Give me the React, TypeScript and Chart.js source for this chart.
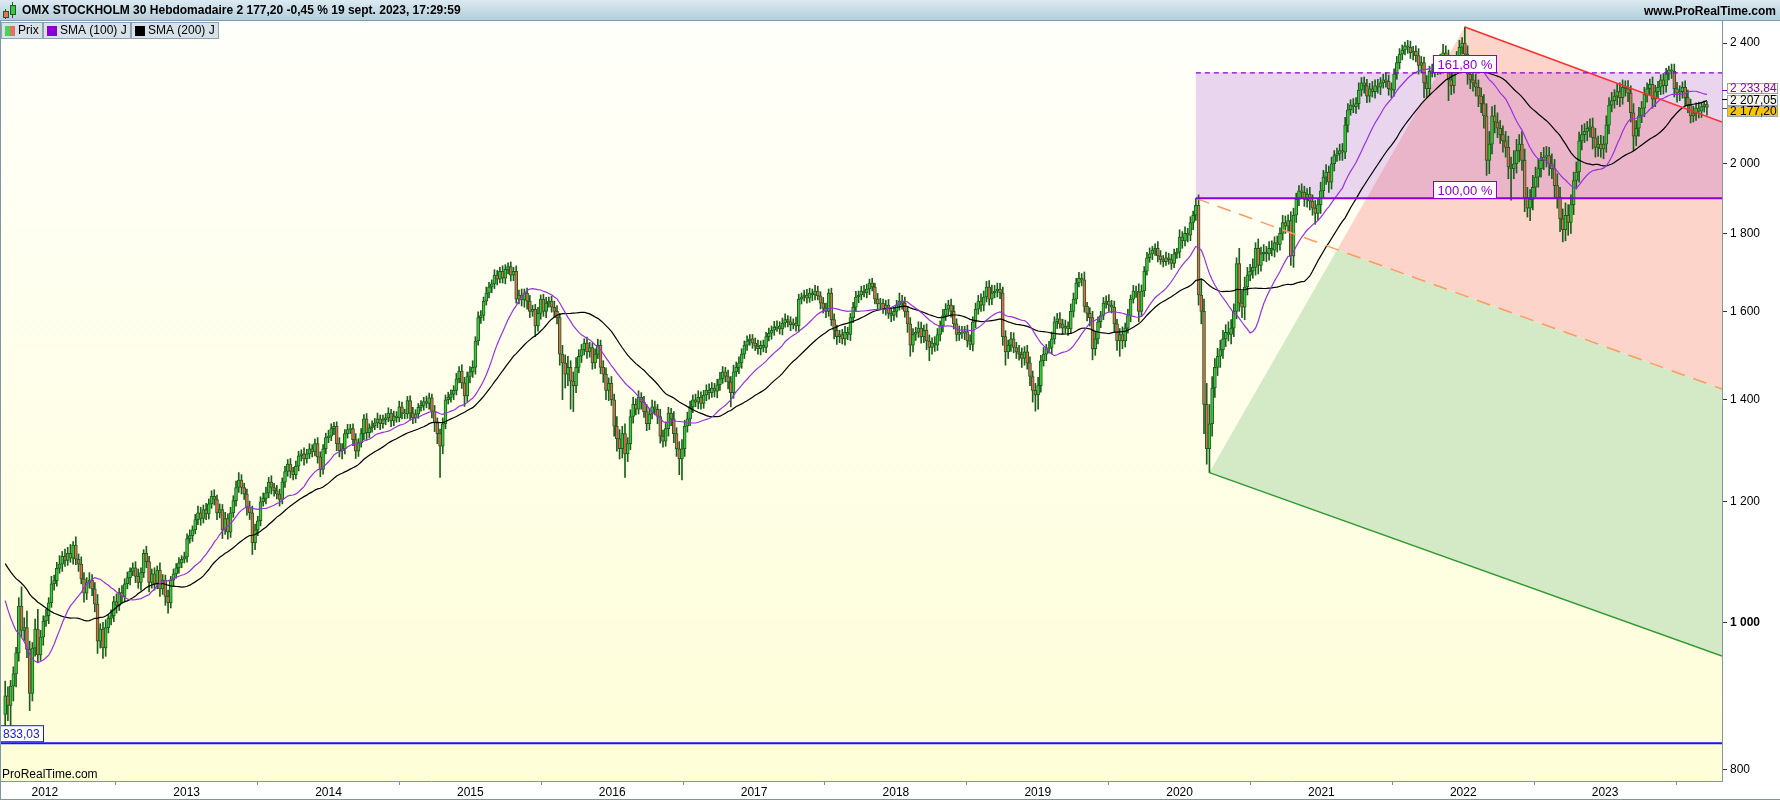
import React, { useEffect, useRef } from "react";
import { Chart, registerables } from "chart.js";

Chart.register(...registerables);

const FONT = "'Liberation Sans', Arial, Helvetica, sans-serif";

// ---- data (weekly candles, first week starts Monday 19 Sept 2011) ----
const warmupClose = [
  1150, 1160, 1165, 1155, 1170, 1160, 1150, 1175, 1185, 1180,
  1160, 1130, 1125, 1090, 1120, 1135, 1150, 1165, 1160, 1150,
  1160, 1165, 1150, 1140, 1130, 1115, 1100, 1115, 1120, 1110,
  1090, 1060, 985, 950, 960, 945, 955, 920, 890, 870,
];

const close2011 = [895, 882, 908, 925, 955, 1025, 988, 992, 960, 898, 962, 990, 952, 978, 1002];
const close2012 = [
  1010, 1030, 1060, 1065, 1085, 1092, 1105, 1098, 1110, 1102, 1124, 1100, 1092, 1068, 1045, 1062, 1066, 1052, 1028, 972,
  990, 962, 992, 1006, 1010, 1032, 1026, 1046, 1040, 1060, 1070, 1080, 1086, 1072, 1062, 1078, 1110, 1096, 1062, 1076,
  1060, 1082, 1052, 1066, 1040, 1030, 1066, 1076, 1086, 1094, 1100, 1104,
];
const close2013 = [
  1135, 1140, 1150, 1168, 1180, 1170, 1186, 1178, 1196, 1210, 1204, 1180, 1186, 1150, 1170, 1146, 1180, 1202, 1226, 1240,
  1226, 1214, 1190, 1180, 1128, 1150, 1166, 1200, 1206, 1216, 1236, 1226, 1220, 1214, 1204, 1236, 1256, 1270, 1256, 1250,
  1266, 1286, 1290, 1280, 1290, 1300, 1294, 1310, 1284, 1260, 1300, 1322,
];
const close2014 = [
  1325, 1340, 1345, 1310, 1296, 1300, 1330, 1338, 1340, 1318, 1295, 1312, 1330, 1360, 1332, 1342, 1346, 1352, 1360, 1350,
  1358, 1362, 1372, 1356, 1366, 1362, 1385, 1372, 1370, 1398, 1372, 1362, 1370, 1384, 1388, 1396, 1392, 1404, 1376, 1352,
  1330, 1305, 1350, 1400, 1405, 1412, 1420, 1445, 1462, 1436, 1408, 1450,
];
const close2015 = [
  1460, 1470, 1530, 1585, 1590, 1625, 1645, 1660, 1668, 1690, 1680, 1700, 1682, 1705, 1712, 1690, 1700, 1630, 1640, 1628,
  1645, 1625, 1600, 1605, 1565, 1595, 1630, 1600, 1620, 1625, 1610, 1600, 1585, 1500, 1480, 1455, 1470, 1440, 1430, 1470,
  1495, 1510, 1525, 1505, 1515, 1480, 1500, 1520, 1470, 1455, 1420, 1435,
];
const close2016 = [
  1400, 1345, 1320, 1300, 1330, 1290, 1310, 1365, 1390, 1380, 1405, 1395, 1375, 1350, 1370, 1385, 1380, 1365, 1325, 1315,
  1340, 1372, 1360, 1330, 1300, 1280, 1300, 1345, 1360, 1385, 1400, 1395, 1405, 1392, 1410, 1420, 1415, 1425, 1418, 1432,
  1445, 1460, 1450, 1438, 1415, 1460, 1470, 1480, 1500, 1520, 1530, 1535,
];
const close2017 = [
  1525, 1518, 1512, 1520, 1515, 1540, 1548, 1555, 1562, 1565, 1558, 1572, 1580, 1575, 1568, 1572, 1565, 1630, 1635, 1640,
  1632, 1645, 1640, 1650, 1638, 1620, 1608, 1600, 1645, 1580, 1555, 1540, 1545, 1535, 1550, 1545, 1585, 1610, 1635, 1640,
  1650, 1645, 1655, 1670, 1660, 1630, 1618, 1620, 1605, 1615, 1595, 1590, 1600,
];
const close2018 = [
  1615, 1625, 1620, 1600, 1570, 1520, 1545, 1550, 1560, 1540, 1555, 1530, 1515, 1525, 1520, 1545, 1565, 1590, 1605, 1615,
  1600, 1570, 1545, 1550, 1548, 1552, 1530, 1522, 1575, 1605, 1625, 1615, 1635, 1660, 1630, 1645, 1650, 1655, 1645, 1540,
  1505, 1520, 1535, 1515, 1505, 1500, 1490, 1505, 1480, 1450, 1420, 1410,
];
const close2019 = [
  1430, 1485, 1500, 1512, 1515, 1535, 1575, 1582, 1570, 1560, 1565, 1558, 1600, 1630, 1670, 1682, 1678, 1612, 1595, 1585,
  1512, 1535, 1575, 1590, 1620, 1625, 1615, 1610, 1570, 1530, 1545, 1530, 1560, 1590, 1630, 1650, 1648, 1600, 1650, 1700,
  1735, 1745, 1755, 1760, 1740, 1730, 1725, 1735, 1730, 1720, 1745, 1750,
];
const close2020 = [
  1790, 1780, 1800, 1795, 1830, 1850, 1878, 1640, 1600, 1390, 1300, 1350, 1425, 1470, 1495, 1510, 1535, 1550, 1545, 1560,
  1600, 1720, 1620, 1610, 1660, 1690, 1700, 1710, 1760, 1715, 1745, 1750, 1745, 1760, 1755, 1775, 1770, 1800, 1830, 1820,
  1835, 1740, 1850, 1895, 1920, 1915, 1895, 1910, 1890, 1870, 1855, 1880,
];
const close2021 = [
  1920, 1960, 1975, 1945, 2000, 2025, 2030, 2040, 2035, 2120, 2170, 2185, 2180, 2190, 2235, 2260, 2250, 2215, 2240, 2230,
  2250, 2245, 2260, 2270, 2265, 2240, 2235, 2290, 2330, 2360, 2375, 2390, 2385, 2365, 2370, 2355, 2320, 2330, 2260, 2240,
  2300, 2305, 2315, 2310, 2340, 2365, 2355, 2270, 2250, 2330, 2350, 2385,
];
const close2022 = [
  2400, 2360, 2290, 2270, 2260, 2245, 2215, 2190, 2150, 2010, 2060, 2150, 2130, 2110, 2090, 2070, 2050, 1990, 1985, 2000,
  2040, 2060, 2010, 1900, 1870, 1895, 1930, 1960, 1985, 2010, 2020, 2025, 2000, 1985, 1935, 1900, 1840, 1810, 1850, 1830,
  1880, 1950, 1975, 2070, 2090, 2100, 2110, 2115, 2080, 2050, 2060, 2045,
];
const close2023 = [
  2060, 2120, 2185, 2200, 2215, 2230, 2210, 2245, 2240, 2225, 2160, 2085, 2110, 2150, 2175, 2220, 2240, 2255, 2205, 2230,
  2245, 2270, 2250, 2290, 2305, 2300, 2240, 2225, 2230, 2245, 2210, 2185, 2150, 2160, 2175, 2165, 2180, 2186.9, 2177.2,
];

const wickUp2011 = [20, 12, 8, 10, 8, 13, 30, 15, 25, 12, 8, 15, 30, 10, 8];
const wickDown2011 = [25, 20, 32, 20, 18, 12, 10, 15, 12, 23, 10, 12, 10, 8, 12];
const wickUp2012 = [
  10, 8, 12, 9, 10, 14, 8, 12, 10, 15, 6, 14, 9, 12, 10, 8, 12, 9, 10, 15, 8, 10, 12, 6, 9, 8, 12, 7, 11, 8,
  9, 6, 8, 10, 12, 8, 6, 12, 9, 8, 10, 7, 12, 9, 8, 10, 6, 8, 7, 9, 6, 8,
];
const wickDown2012 = [
  8, 12, 7, 10, 9, 8, 12, 10, 8, 7, 10, 9, 12, 8, 14, 10, 9, 11, 12, 18, 10, 15, 12, 8, 10, 9, 12, 8, 10, 9,
  8, 12, 7, 10, 9, 12, 8, 10, 15, 9, 10, 8, 12, 9, 14, 16, 8, 10, 7, 9, 8, 6,
];
const wickUp2013 = [
  8, 10, 7, 9, 12, 10, 8, 11, 9, 10, 12, 8, 10, 9, 11, 8, 10, 9, 12, 14, 10, 8, 9, 11, 12, 10, 8, 9, 10, 11,
  9, 12, 8, 10, 9, 8, 10, 9, 11, 8, 10, 9, 8, 12, 9, 10, 8, 9, 12, 10, 8, 9,
];
const wickDown2013 = [
  9, 8, 10, 7, 9, 12, 8, 10, 9, 8, 10, 12, 9, 15, 8, 12, 9, 8, 10, 9, 12, 10, 14, 12, 20, 12, 10, 9, 8, 10,
  9, 12, 10, 9, 12, 8, 10, 9, 12, 10, 8, 9, 10, 12, 8, 9, 10, 8, 12, 14, 9, 10,
];
const wickUp2014 = [
  12, 10, 8, 9, 12, 10, 8, 11, 9, 10, 12, 8, 10, 9, 11, 8, 10, 9, 12, 8, 10, 9, 11, 8, 10, 9, 12, 10, 8, 9,
  10, 12, 9, 8, 10, 9, 12, 10, 8, 12, 10, 9, 12, 10, 11, 9, 10, 12, 10, 14, 12, 10,
];
const wickDown2014 = [
  10, 9, 12, 14, 12, 16, 10, 9, 8, 12, 14, 10, 9, 12, 15, 10, 9, 8, 10, 12, 9, 10, 8, 12, 10, 9, 8, 12, 10, 9,
  14, 12, 10, 9, 8, 10, 9, 12, 14, 18, 20, 60, 15, 10, 9, 10, 12, 10, 9, 12, 22, 12,
];
const wickUp2015 = [
  12, 15, 10, 14, 12, 10, 15, 12, 10, 14, 12, 10, 14, 12, 10, 12, 10, 14, 12, 15, 10, 12, 14, 10, 12, 15, 10, 12, 14, 10,
  12, 15, 14, 10, 20, 18, 25, 15, 20, 22, 15, 12, 10, 14, 12, 10, 12, 14, 12, 15, 14, 12,
];
const wickDown2015 = [
  14, 12, 15, 10, 14, 12, 10, 12, 14, 12, 15, 10, 12, 14, 12, 15, 14, 10, 12, 15, 18, 20, 15, 12, 25, 12, 14, 12, 15, 10,
  12, 14, 15, 25, 80, 30, 25, 60, 55, 15, 12, 14, 12, 15, 12, 14, 12, 10, 14, 18, 20, 22,
];
const wickUp2016 = [
  15, 12, 20, 18, 15, 20, 12, 14, 15, 12, 14, 10, 12, 15, 12, 14, 12, 10, 15, 12, 14, 12, 10, 15, 12, 14, 18, 12, 14, 12,
  10, 12, 14, 12, 10, 12, 14, 12, 10, 12, 14, 12, 10, 14, 12, 15, 12, 14, 12, 10, 12, 10,
];
const wickDown2016 = [
  12, 20, 25, 20, 18, 45, 15, 12, 14, 12, 10, 15, 12, 14, 12, 10, 12, 15, 14, 12, 10, 15, 14, 18, 15, 30, 40, 15, 12, 14,
  12, 10, 14, 12, 10, 12, 14, 10, 12, 14, 12, 10, 12, 15, 30, 12, 10, 14, 12, 10, 12, 10,
];
const wickUp2017 = [
  10, 12, 14, 10, 12, 10, 12, 10, 14, 12, 10, 12, 14, 10, 12, 10, 14, 12, 10, 12, 14, 12, 10, 14, 12, 10, 14, 12, 10, 12,
  14, 12, 10, 12, 14, 12, 10, 12, 14, 10, 12, 14, 12, 10, 12, 10, 14, 12, 10, 12, 14, 12, 10,
];
const wickDown2017 = [
  12, 10, 12, 14, 10, 12, 10, 14, 12, 10, 12, 14, 10, 12, 14, 10, 12, 14, 12, 10, 12, 10, 14, 12, 10, 14, 12, 15, 12, 14,
  20, 18, 14, 12, 15, 12, 14, 12, 10, 14, 12, 10, 12, 14, 10, 12, 14, 12, 10, 14, 12, 15, 12,
];
const wickUp2018 = [
  12, 20, 14, 15, 12, 15, 14, 12, 15, 14, 12, 15, 14, 12, 15, 14, 12, 15, 14, 12, 15, 14, 12, 15, 14, 12, 15, 14, 12, 15,
  14, 18, 15, 14, 16, 20, 14, 15, 14, 15, 14, 12, 15, 14, 12, 15, 14, 12, 15, 14, 12, 15,
];
const wickDown2018 = [
  14, 12, 15, 14, 20, 25, 15, 14, 12, 15, 14, 20, 30, 15, 14, 12, 15, 14, 12, 15, 14, 12, 15, 14, 12, 15, 14, 12, 15, 14,
  12, 15, 14, 12, 15, 14, 12, 15, 14, 20, 30, 15, 14, 12, 15, 14, 20, 15, 14, 20, 25, 34,
];
const wickUp2019 = [
  18, 12, 15, 10, 14, 16, 12, 13, 15, 11, 14, 10, 18, 15, 12, 15, 12, 20, 10, 14, 15, 18, 12, 10, 14, 13, 16, 12, 15, 11,
  14, 18, 12, 15, 10, 14, 12, 20, 15, 12, 14, 16, 10, 12, 18, 14, 11, 15, 12, 14, 13, 10,
];
const wickDown2019 = [
  30, 14, 12, 15, 10, 14, 12, 16, 10, 14, 12, 15, 11, 14, 12, 10, 15, 14, 18, 20, 25, 15, 12, 14, 10, 12, 15, 14, 20, 22,
  35, 18, 14, 12, 15, 10, 14, 25, 12, 14, 10, 12, 15, 14, 16, 12, 14, 10, 12, 15, 11, 12,
];
const wickUp2020 = [
  20, 15, 18, 14, 16, 12, 20, 30, 40, 30, 45, 40, 25, 20, 18, 22, 20, 18, 25, 20, 18, 15, 40, 30, 25, 20, 18, 22, 15, 25,
  18, 20, 15, 18, 20, 16, 18, 15, 20, 18, 16, 25, 20, 18, 15, 20, 18, 16, 20, 18, 22, 15,
];
const wickDown2020 = [
  15, 20, 14, 18, 15, 20, 14, 25, 30, 60, 30, 46, 25, 20, 18, 25, 20, 18, 15, 22, 20, 18, 20, 25, 30, 20, 15, 18, 20, 22,
  15, 18, 20, 16, 15, 18, 20, 15, 18, 20, 16, 25, 30, 20, 18, 15, 20, 22, 25, 20, 30, 18,
];
const wickUp2021 = [
  25, 20, 22, 18, 20, 15, 18, 20, 22, 25, 20, 18, 22, 20, 25, 18, 20, 22, 18, 25, 20, 22, 18, 20, 25, 22, 20, 18, 22, 20,
  18, 14, 20, 22, 18, 20, 25, 22, 20, 25, 18, 20, 22, 25, 20, 30, 25, 20, 25, 22, 20, 25,
];
const wickDown2021 = [
  25, 20, 22, 30, 20, 22, 18, 20, 25, 20, 22, 18, 20, 22, 18, 20, 25, 22, 20, 18, 22, 20, 25, 18, 20, 22, 25, 20, 18, 22,
  20, 18, 22, 20, 25, 22, 30, 25, 50, 30, 22, 20, 25, 22, 20, 18, 22, 70, 30, 25, 22, 20,
];
const wickUp2022 = [
  20, 59, 30, 25, 28, 30, 25, 28, 30, 40, 40, 30, 35, 30, 25, 28, 30, 35, 30, 40, 35, 30, 40, 35, 30, 28, 35, 30, 28, 25,
  30, 28, 25, 30, 28, 35, 30, 28, 35, 30, 28, 25, 30, 28, 30, 25, 22, 25, 28, 30, 25, 28,
];
const wickDown2022 = [
  25, 28, 35, 30, 28, 30, 35, 30, 40, 45, 40, 30, 35, 30, 28, 35, 30, 35, 92, 30, 28, 35, 30, 40, 25, 35, 30, 28, 30, 25,
  28, 30, 35, 30, 35, 30, 35, 33, 30, 35, 30, 28, 25, 30, 28, 25, 30, 28, 35, 30, 28, 25,
];
const wickUp2023 = [
  25, 30, 25, 28, 22, 25, 30, 25, 22, 28, 25, 30, 25, 28, 22, 25, 20, 18, 25, 22, 20, 18, 22, 20, 13, 20, 25, 22, 20, 18,
  22, 25, 20, 22, 18, 20, 15, 12, 10,
];
const wickDown2023 = [
  30, 25, 28, 22, 25, 28, 30, 22, 25, 28, 30, 45, 30, 25, 22, 28, 25, 22, 30, 25, 22, 25, 28, 22, 20, 25, 28, 30, 25, 22,
  28, 25, 23, 20, 25, 22, 20, 18, 25,
];

const yearTicks = [2012, 2013, 2014, 2015, 2016, 2017, 2018, 2019, 2020, 2021, 2022, 2023];
const priceTicks = [800, 1000, 1200, 1400, 1600, 1800, 2000, 2400];

// annotation anchors (week index, value)
const fibStartWeek = 438; // Feb 2020 high
const fib100Value = 1898;
const covidLowWeek = 443;
const covidLowValue = 1254;
const athWeek = 537;
const athValue = 2459;
const redLineEndValue = 2130;
const orangeLineEndValue = 1423;
const greenLineEndValue = 950.4;
const supportValue = 833.03;

const headerText = "OMX STOCKHOLM 30 Hebdomadaire 2 177,20 -0,45 % 19 sept. 2023, 17:29:59";
const lastSma100Text = "2 233,84";
const lastSma200Text = "2 207,05";
const lastCloseText = "2 177,20";

// ---- build series ----
const closes = [
  ...close2011, ...close2012, ...close2013, ...close2014, ...close2015, ...close2016, ...close2017,
  ...close2018, ...close2019, ...close2020, ...close2021, ...close2022, ...close2023,
];
const wicksUp = [
  ...wickUp2011, ...wickUp2012, ...wickUp2013, ...wickUp2014, ...wickUp2015, ...wickUp2016, ...wickUp2017,
  ...wickUp2018, ...wickUp2019, ...wickUp2020, ...wickUp2021, ...wickUp2022, ...wickUp2023,
];
const wicksDown = [
  ...wickDown2011, ...wickDown2012, ...wickDown2013, ...wickDown2014, ...wickDown2015, ...wickDown2016, ...wickDown2017,
  ...wickDown2018, ...wickDown2019, ...wickDown2020, ...wickDown2021, ...wickDown2022, ...wickDown2023,
];

function weekTime(i: number) {
  const ms = Date.UTC(2011, 8, 19) + (i * 7 + 2) * 86400000;
  const y = new Date(ms).getUTCFullYear();
  const s = Date.UTC(y, 0, 1);
  const e = Date.UTC(y + 1, 0, 1);
  return y + (ms - s) / (e - s);
}

const candles = closes.map((c, i) => {
  const o = i === 0 ? warmupClose[warmupClose.length - 1] : closes[i - 1];
  const hi = Math.max(o, c) + (wicksUp[i] ?? 0);
  const lo = Math.min(o, c) - (wicksDown[i] ?? 0);
  return { t: weekTime(i), o, c, hi, lo };
});

const allCloses = [...warmupClose, ...closes];
function movingAverage(n: number) {
  return closes.map((_, i) => {
    const end = warmupClose.length + i;
    let s = 0;
    for (let k = end - n + 1; k <= end; k++) s += allCloses[k];
    return { x: weekTime(i), y: s / n };
  });
}
const sma100 = movingAverage(20); // 100 trading days ~ 20 weeks
const sma200 = movingAverage(40); // 200 trading days ~ 40 weeks

const fib1618Value = fib100Value + 0.618 * (fib100Value - covidLowValue);

function fmtThousands(v: number) {
  return String(v).replace(/\B(?=(\d{3})+(?!\d))/g, " ");
}

function intersect(p1: any, p2: any, p3: any, p4: any) {
  const d = (p1.x - p2.x) * (p3.y - p4.y) - (p1.y - p2.y) * (p3.x - p4.x);
  const a = p1.x * p2.y - p1.y * p2.x;
  const b = p3.x * p4.y - p3.y * p4.x;
  return {
    x: (a * (p3.x - p4.x) - (p1.x - p2.x) * b) / d,
    y: (a * (p3.y - p4.y) - (p1.y - p2.y) * b) / d,
  };
}

function geometry(chart: any) {
  const xs = chart.scales.x;
  const ys = chart.scales.y;
  const P = (t: number, v: number) => ({ x: xs.getPixelForValue(t), y: ys.getPixelForValue(v) });
  const tEnd = xs.max;
  const A = P(weekTime(fibStartWeek), fib100Value);
  const B = P(weekTime(covidLowWeek), covidLowValue);
  const C = P(weekTime(athWeek), athValue);
  const R = P(tEnd, redLineEndValue);
  const O = P(tEnd, orangeLineEndValue);
  const G = P(tEnd, greenLineEndValue);
  const yTop = ys.getPixelForValue(fib1618Value);
  const I = intersect(A, O, B, C);
  return { A, B, C, R, O, G, I, yTop, yBot: A.y };
}

function poly(ctx: CanvasRenderingContext2D, pts: any[], color: string) {
  ctx.beginPath();
  ctx.moveTo(pts[0].x, pts[0].y);
  for (let i = 1; i < pts.length; i++) ctx.lineTo(pts[i].x, pts[i].y);
  ctx.closePath();
  ctx.fillStyle = color;
  ctx.fill();
}

function line(ctx: CanvasRenderingContext2D, a: any, b: any, color: string, w: number, dash: number[] = []) {
  ctx.beginPath();
  ctx.setLineDash(dash);
  ctx.moveTo(a.x, a.y);
  ctx.lineTo(b.x, b.y);
  ctx.strokeStyle = color;
  ctx.lineWidth = w;
  ctx.stroke();
  ctx.setLineDash([]);
}

const overlayPlugin = {
  id: "overlay",
  beforeDraw(chart: any) {
    const { ctx, chartArea: ca, width, height } = chart;
    ctx.save();
    ctx.fillStyle = "#ffffff";
    ctx.fillRect(0, 0, width, height);
    const g = ctx.createLinearGradient(0, ca.top, 0, ca.bottom);
    g.addColorStop(0, "#FFFFFB");
    g.addColorStop(1, "#FEFED8");
    ctx.fillStyle = g;
    ctx.fillRect(ca.left, ca.top, ca.right - ca.left, ca.bottom - ca.top);
    ctx.restore();
  },
  beforeDatasetsDraw(chart: any) {
    const { ctx, chartArea: ca } = chart;
    const g = geometry(chart);
    ctx.save();
    ctx.beginPath();
    ctx.rect(ca.left, ca.top, ca.right - ca.left, ca.bottom - ca.top);
    ctx.clip();
    // fibonacci zone
    ctx.fillStyle = "#E9D6EE";
    ctx.fillRect(g.A.x, g.yTop, ca.right - g.A.x, g.yBot - g.yTop);
    // upper (red) zone
    const upper = [g.I, g.C, g.R, g.O];
    poly(ctx, upper, "#FDD4C9");
    // lower (green) zone
    poly(ctx, [g.B, g.I, g.O, g.G], "#D4EAC6");
    // overlap of red zone with fibonacci zone
    ctx.save();
    ctx.beginPath();
    ctx.rect(g.A.x, g.yTop, ca.right - g.A.x, g.yBot - g.yTop);
    ctx.clip();
    poly(ctx, upper, "#EBB5C9");
    ctx.restore();
    ctx.restore();
  },
  afterDatasetsDraw(chart: any) {
    const { ctx, chartArea: ca } = chart;
    const g = geometry(chart);
    const ys = chart.scales.y;
    ctx.save();
    ctx.beginPath();
    ctx.rect(ca.left, ca.top, ca.right - ca.left, ca.bottom - ca.top);
    ctx.clip();
    line(ctx, g.C, g.R, "#FF2E2E", 1.6);
    line(ctx, g.A, g.O, "#FF9A5E", 1.5, [14, 9]);
    line(ctx, g.B, g.G, "#2E9A2E", 1.5);
    line(ctx, { x: g.A.x, y: g.yBot }, { x: ca.right, y: g.yBot }, "#8A00D0", 2);
    line(ctx, { x: g.A.x, y: g.yTop + 0.5 }, { x: ca.right, y: g.yTop + 0.5 }, "#8A00D0", 1.3, [5, 4]);
    const ySup = ys.getPixelForValue(supportValue);
    line(ctx, { x: ca.left, y: ySup }, { x: ca.right, y: ySup }, "#1414FF", 2);

    // fib labels
    ctx.font = `13px ${FONT}`;
    ctx.textBaseline = "middle";
    ctx.textAlign = "center";
    const fibLabels = [
      { text: "161,80 %", y: g.yTop },
      { text: "100,00 %", y: g.yBot },
    ];
    for (const lb of fibLabels) {
      const w = Math.round(ctx.measureText(lb.text).width) + 8;
      const h = 17;
      const x0 = Math.round(g.C.x - w / 2) + 0.5;
      const y0 = Math.round(lb.y - h) + 0.5;
      ctx.fillStyle = "#ffffff";
      ctx.fillRect(x0, y0, w, h);
      ctx.strokeStyle = "#8A00D0";
      ctx.lineWidth = 1;
      ctx.strokeRect(x0, y0, w, h);
      ctx.fillStyle = "#8A00D0";
      ctx.fillText(lb.text, x0 + w / 2, y0 + h / 2 + 1);
    }

    // support label
    ctx.font = `12px ${FONT}`;
    ctx.textAlign = "left";
    const sw = Math.round(ctx.measureText("833,03").width) + 6;
    ctx.fillStyle = "#ffffff";
    ctx.fillRect(0.5, ySup - 17.5, sw, 16);
    ctx.strokeStyle = "#1414FF";
    ctx.strokeRect(0.5, ySup - 17.5, sw, 16);
    ctx.fillStyle = "#1414FF";
    ctx.fillText("833,03", 3, ySup - 9);

    // watermark
    ctx.fillStyle = "#000000";
    ctx.font = `12px ${FONT}`;
    ctx.fillText("ProRealTime.com", 2, ca.bottom - 6);
    ctx.restore();
  },
  afterDraw(chart: any) {
    const { ctx, chartArea: ca, width } = chart;
    const ys = chart.scales.y;
    ctx.save();
    // header bar
    const hg = ctx.createLinearGradient(0, 0, 0, 21);
    hg.addColorStop(0, "#DCEAF1");
    hg.addColorStop(1, "#AFCDDA");
    ctx.fillStyle = hg;
    ctx.fillRect(0, 0, width, 21);
    ctx.fillStyle = "#7F9DAE";
    ctx.fillRect(0, 20, width, 1);
    // header icon (two candles)
    ctx.strokeStyle = "#1C5E1C";
    ctx.lineWidth = 1;
    ctx.beginPath();
    ctx.moveTo(5.5, 9); ctx.lineTo(5.5, 19);
    ctx.moveTo(12.5, 2); ctx.lineTo(12.5, 18);
    ctx.stroke();
    ctx.fillStyle = "#E4705E";
    ctx.fillRect(3.5, 11.5, 5, 6);
    ctx.strokeRect(3.5, 11.5, 5, 6);
    ctx.fillStyle = "#3CC83C";
    ctx.fillRect(10.5, 5.5, 5, 9);
    ctx.strokeRect(10.5, 5.5, 5, 9);
    ctx.fillStyle = "#000000";
    ctx.font = `bold 12px ${FONT}`;
    ctx.textBaseline = "middle";
    ctx.textAlign = "left";
    ctx.fillText(headerText, 22, 11);
    ctx.textAlign = "right";
    ctx.fillText("www.ProRealTime.com", width - 4, 12);

    // legend boxes
    ctx.font = `12px ${FONT}`;
    ctx.textAlign = "left";
    const items = [
      { text: "Prix", sw: "candle" },
      { text: "SMA (100) J", sw: "#8A00D0" },
      { text: "SMA (200) J", sw: "#000000" },
    ];
    let x = 1;
    for (const it of items) {
      const w = Math.round(ctx.measureText(it.text).width) + 21;
      ctx.fillStyle = "#D7E1E8";
      ctx.fillRect(x, 22, w, 17);
      ctx.strokeStyle = "#8FA3B1";
      ctx.strokeRect(x + 0.5, 22.5, w - 1, 16);
      if (it.sw === "candle") {
        ctx.fillStyle = "#4ED24E";
        ctx.fillRect(x + 4, 26, 5, 10);
        ctx.fillStyle = "#E4705E";
        ctx.fillRect(x + 9, 26, 5, 10);
      } else {
        ctx.fillStyle = it.sw;
        ctx.fillRect(x + 4, 26, 10, 10);
      }
      ctx.fillStyle = "#000000";
      ctx.fillText(it.text, x + 17, 31);
      x += w;
    }

    // right-side value labels
    const boxes = [
      { text: lastSma100Text, y0: 83, fill: "#FCFCEC", color: "#8A00D0", lineY: 90, lineColor: "#8A00D0" },
      { text: lastSma200Text, y0: 95, fill: "#F7F7F2", color: "#000000", lineY: 99, lineColor: "#000000" },
      { text: lastCloseText, y0: 106, fill: "#F6C400", color: "#000000", lineY: 108, lineColor: "#555555" },
    ];
    for (const b of boxes) {
      ctx.fillStyle = b.lineColor;
      ctx.fillRect(ca.right, b.lineY, 5, 1);
      ctx.fillStyle = b.fill;
      ctx.fillRect(ca.right + 5, b.y0, 51, 11);
      ctx.strokeStyle = "#9AA6AE";
      ctx.strokeRect(ca.right + 5.5, b.y0 + 0.5, 50, 10);
      ctx.fillStyle = b.color;
      ctx.textAlign = "left";
      ctx.fillText(b.text, ca.right + 8, b.y0 + 6);
    }

    // frame
    ctx.fillStyle = "#8095A5";
    ctx.fillRect(0, 21, 1, 779);
    ctx.fillRect(0, 799, width, 1);
    ctx.restore();
  },
};

export default function App() {
  const ref = useRef<HTMLCanvasElement>(null);
  useEffect(() => {
    const canvas = ref.current;
    if (!canvas) return;
    const green = "#3CC83C";
    const red = "#E26A56";
    const edge = "#1C5E1C";
    const chart = new Chart(canvas, {
      type: "bar",
      data: {
        datasets: [
          {
            type: "line",
            label: "SMA (100) J",
            data: sma100,
            borderColor: "#9B2FE0",
            borderWidth: 1.2,
            pointRadius: 0,
            tension: 0,
            order: 0,
          } as any,
          {
            type: "line",
            label: "SMA (200) J",
            data: sma200,
            borderColor: "#000000",
            borderWidth: 1.2,
            pointRadius: 0,
            tension: 0,
            order: 0,
          } as any,
          {
            label: "bodies",
            data: candles.map((k) => ({ x: k.t, y: [k.o, k.c] })),
            backgroundColor: candles.map((k) => (k.c >= k.o ? green : red)),
            borderColor: edge,
            borderWidth: 1,
            borderSkipped: false,
            barThickness: 3,
            grouped: false,
            order: 1,
          } as any,
          {
            label: "wicks",
            data: candles.map((k) => ({ x: k.t, y: [k.lo, k.hi] })),
            backgroundColor: edge,
            borderWidth: 0,
            barThickness: 1,
            grouped: false,
            order: 2,
          } as any,
        ],
      },
      options: {
        responsive: false,
        devicePixelRatio: 1,
        animation: false,
        events: [],
        layout: { padding: { top: 21, left: 1, right: 0, bottom: 0 } },
        plugins: { legend: { display: false }, tooltip: { enabled: false } },
        scales: {
          x: {
            type: "linear",
            min: 2011.691,
            max: 2023.824,
            offset: false,
            afterBuildTicks: (s: any) => {
              s.ticks = yearTicks.map((v) => ({ value: v }));
            },
            afterFit: (s: any) => {
              s.height = 19;
            },
            grid: { drawOnChartArea: false, drawTicks: true, tickLength: 4, color: "#7E8E9A" },
            border: { color: "#8495A3", width: 1 },
            ticks: {
              autoSkip: false,
              maxRotation: 0,
              padding: 0,
              color: "#000000",
              font: { family: FONT, size: 12 },
              callback: (v: any) => String(v),
            },
          },
          y: {
            type: "logarithmic",
            position: "right",
            min: 786.8,
            max: 2481.4,
            afterBuildTicks: (s: any) => {
              s.ticks = priceTicks.map((v) => ({ value: v }));
            },
            afterFit: (s: any) => {
              s.width = 58;
            },
            grid: { drawOnChartArea: false, drawTicks: true, tickLength: 5, color: "#333333" },
            border: { color: "#8495A3", width: 1 },
            ticks: {
              autoSkip: false,
              padding: 3,
              color: "#000000",
              font: (c: any) => ({
                family: FONT,
                size: 12,
                weight: c.tick && c.tick.value === 1000 ? "bold" : "normal",
              }),
              callback: (v: any) => fmtThousands(Number(v)),
            },
          },
        },
      } as any,
      plugins: [overlayPlugin],
    });
    return () => chart.destroy();
  }, []);
  return (
    <div style={{ position: "fixed", left: 0, top: 0, width: 1780, height: 800, background: "#ffffff" }}>
      <canvas ref={ref} width={1780} height={800} style={{ display: "block", width: 1780, height: 800 }} />
    </div>
  );
}
